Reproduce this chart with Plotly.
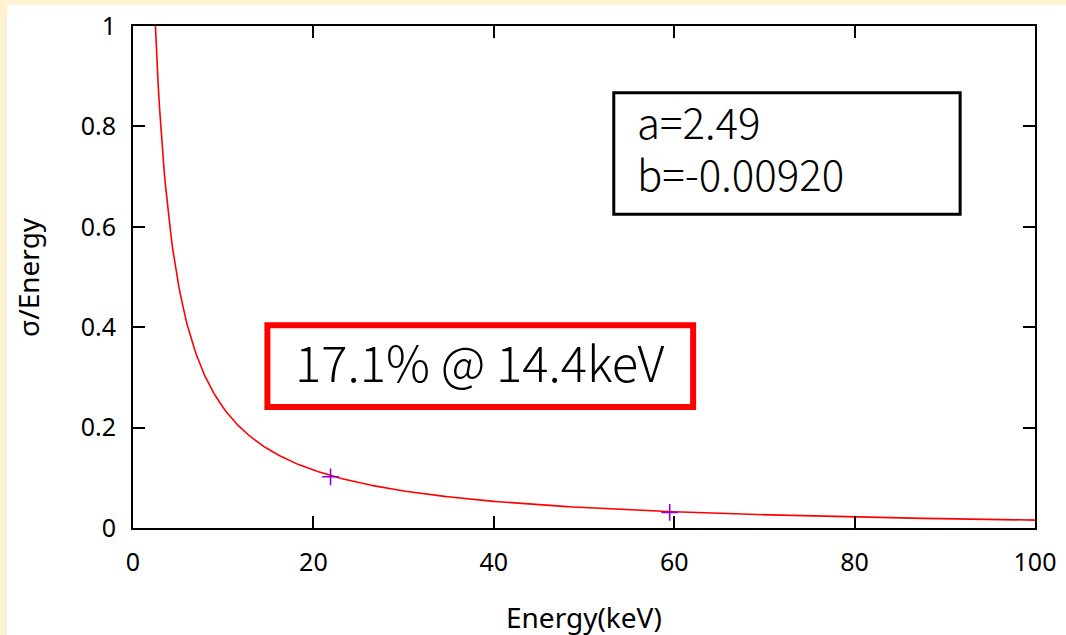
import numpy as np
import plotly.graph_objects as go

# Fit parameters for sigma/E = a/E + b
a = 2.49
b = -0.00920

# Measured resolution points (energy in keV, sigma/E)
meas_energy = [21.9, 59.5]
meas_sigma = [0.102, 0.031]

x_ticks = [0, 20, 40, 60, 80, 100]
y_ticks = [0, 0.2, 0.4, 0.6, 0.8, 1]
y_tick_text = ["0", "0.2", "0.4", "0.6", "0.8", "1"]

energy = np.linspace(2.3, 100, 600)
fit = a / energy + b

CREAM = "#FFF2D1"
TICK_FONT = dict(family="Noto Sans, DejaVu Sans, sans-serif", size=25, color="black")
TITLE_FONT = dict(family="Noto Sans, sans-serif", size=28, color="black")
BOX_FONT = "Noto Sans CJK JP, Noto Sans, sans-serif"

fig = go.Figure()
fig.add_trace(go.Scatter(
    x=energy, y=fit, mode="lines",
    line=dict(color="#FF0000", width=1.6),
    showlegend=False, hoverinfo="skip",
))
fig.add_trace(go.Scatter(
    x=meas_energy, y=meas_sigma, mode="markers",
    marker=dict(symbol="cross-thin", size=12, line=dict(color="#9400D3", width=1.6)),
    showlegend=False,
))

axis_common = dict(
    showline=True, linecolor="black", linewidth=2, mirror="ticks",
    ticks="inside", ticklen=12, tickwidth=1.5, tickcolor="black",
    showgrid=False, zeroline=False, tickfont=TICK_FONT, automargin=False,
)

fig.update_xaxes(range=[0, 100], tickvals=x_ticks, ticklabelstandoff=11, **axis_common)
fig.update_yaxes(range=[0, 1], tickvals=y_ticks, ticktext=y_tick_text, ticklabelstandoff=10, **axis_common)

shapes = [
    # cream frame strips along the top and left edges
    dict(type="rect", xref="paper", yref="paper", x0=-133 / 902, x1=-126 / 902, y0=-107 / 502, y1=528 / 502,
         fillcolor=CREAM, line=dict(width=0), layer="below"),
    dict(type="rect", xref="paper", yref="paper", x0=-133 / 902, x1=933 / 902, y0=523 / 502, y1=528 / 502,
         fillcolor=CREAM, line=dict(width=0), layer="below"),
    # parameter box
    dict(type="rect", xref="x", yref="y", x0=53.3, x1=91.7, y0=0.625, y1=0.867,
         fillcolor="white", line=dict(color="black", width=3), layer="above"),
    # highlighted resolution box
    dict(type="rect", xref="x", yref="y", x0=14.9, x1=62.1, y0=0.241, y1=0.404,
         fillcolor="white", line=dict(color="#FF0000", width=6), layer="above"),
]

box_text_font = dict(family=BOX_FONT, size=42, color="black", weight=300)
annotations = [
    # axis titles
    dict(x=0.5, y=-0.177, xref="paper", yref="paper", xanchor="center", yanchor="middle",
         text="Energy(keV)", showarrow=False, font=TITLE_FONT),
    dict(x=-0.1165, y=0.5, xref="paper", yref="paper", xanchor="center", yanchor="middle",
         text="σ/Energy", textangle=-90, showarrow=False, font=TITLE_FONT),
    # fit parameters
    dict(x=55.6, y=0.812, xref="x", yref="y", xanchor="left", yanchor="middle",
         text=f"a={a}", showarrow=False, font=box_text_font),
    dict(x=55.6, y=0.709, xref="x", yref="y", xanchor="left", yanchor="middle",
         text=f"b={b:.5f}", showarrow=False, font=box_text_font),
    # resolution at 14.4 keV
    dict(x=38.5, y=0.334, xref="x", yref="y", xanchor="center", yanchor="middle",
         text="17.1% @ 14.4keV", showarrow=False,
         font=dict(family=BOX_FONT, size=49, color="black", weight=300)),
]

fig.update_layout(
    width=1066, height=635,
    margin=dict(l=133, r=31, t=26, b=107),
    paper_bgcolor="white", plot_bgcolor="white",
    shapes=shapes, annotations=annotations,
)

fig.write_html("out.html")
